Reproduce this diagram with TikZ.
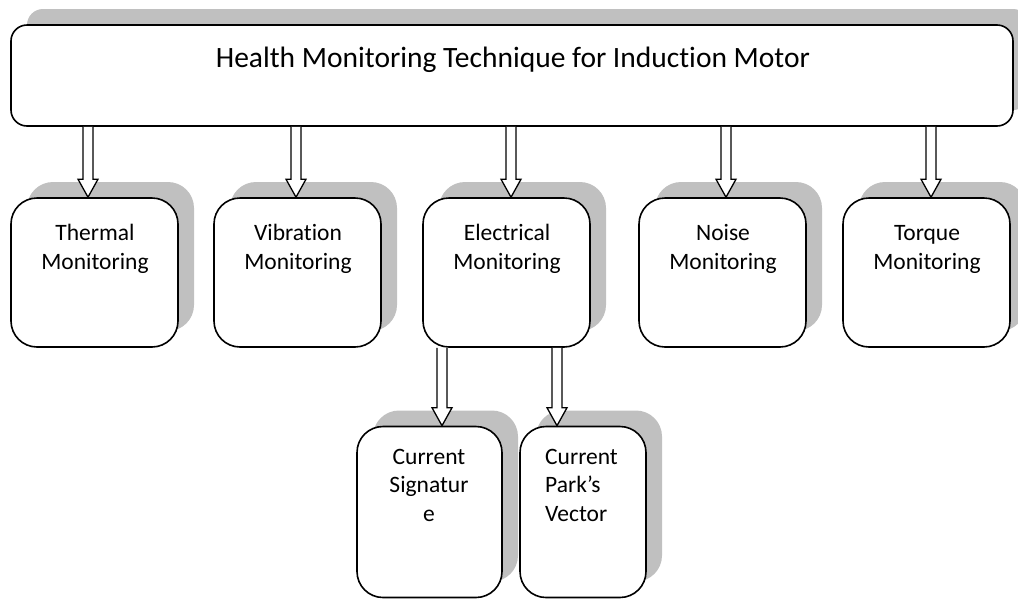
\documentclass[tikz,border=0pt]{standalone}
\usepackage{fontspec}
\setmainfont{Carlito}[Ligatures=NoCommon]
\usetikzlibrary{calc,shadows}
\definecolor{shadowgray}{HTML}{C0C0C0}
\tikzset{
  box/.style={draw=black, line width=1.6pt, fill=white, rounded corners=#1,
    inner sep=0pt, drop shadow={shadow xshift=16pt, shadow yshift=16pt, fill=shadowgray, opacity=1}},
  box/.default=26pt,
  lbl/.style={anchor=north, inner sep=0pt, align=center, font=\fontsize{23.5}{28.5}\selectfont},
  harrow/.style={draw=black, line width=1.3pt, fill=white, line join=miter,
    to path={let \p1=(\tikztostart), \p2=(\tikztotarget) in
      (\x1-5pt,\y1) -- (\x1-5pt,\y2+18pt) -- (\x1-10pt,\y2+18pt) -- (\x1,\y2)
      -- (\x1+10pt,\y2+18pt) -- (\x1+5pt,\y2+18pt) -- (\x1+5pt,\y1)}}
}
\begin{document}
\begin{tikzpicture}[x=1pt,y=-1pt]
\useasboundingbox (0,0) rectangle (1018,598);
\clip (0,0) rectangle (1018,598);
% top box
\node[box=16pt, minimum width=1002pt, minimum height=101pt] (top) at (512,75.5) {};
\node[anchor=north, inner sep=0pt, font=\fontsize{29.5}{35}\selectfont] (title) at (513,47) {Health Monitoring Technique for Induction Motor};
% second level
\node[box, minimum width=167pt, minimum height=149pt] (th) at (94.5,272.5) {};
\node[box, minimum width=167pt, minimum height=149pt] (vb) at (297.5,272.5) {};
\node[box, minimum width=167pt, minimum height=149pt] (el) at (506.5,272.5) {};
\node[box, minimum width=167pt, minimum height=149pt] (no) at (722.5,272.5) {};
\node[box, minimum width=167pt, minimum height=149pt] (tq) at (926.5,272.5) {};
\node[lbl] (thl) at (95,224) {Thermal\\Monitoring};
\node[lbl] (vbl) at (298,224) {Vibration\\Monitoring};
\node[lbl] (ell) at (507,224) {Electrical\\Monitoring};
\node[lbl] (nol) at (723,224) {\vphantom{Th}Noise\\Monitoring};
\node[lbl] (tql) at (927,224) {\vphantom{Th}Torque\\Monitoring};
% third level
\node[box, minimum width=145pt, minimum height=171pt] (cs) at (429.5,512) {};
\node[box, minimum width=126pt, minimum height=171pt] (cp) at (583,512) {};
\node[lbl] (csl) at (429,449) {Current\\Signatur\\e};
\node[lbl, anchor=north west, align=left] (cpl) at (545,449) {Current\\Park’s\\Vector};
% arrow positions
\coordinate (a1) at (88,0);
\coordinate (a2) at (296,0);
\coordinate (a3) at (511,0);
\coordinate (a4) at (726,0);
\coordinate (a5) at (931,0);
\coordinate (b1) at (442,0);
\coordinate (b2) at (557,0);
\draw[harrow] (top.south -| a1) to (th.north -| a1);
\draw[harrow] (top.south -| a2) to (vb.north -| a2);
\draw[harrow] (top.south -| a3) to (el.north -| a3);
\draw[harrow] (top.south -| a4) to (no.north -| a4);
\draw[harrow] (top.south -| a5) to (tq.north -| a5);
\draw[harrow] (el.south -| b1) to (cs.north -| b1);
\draw[harrow] (el.south -| b2) to (cp.north -| b2);
\end{tikzpicture}
\end{document}
